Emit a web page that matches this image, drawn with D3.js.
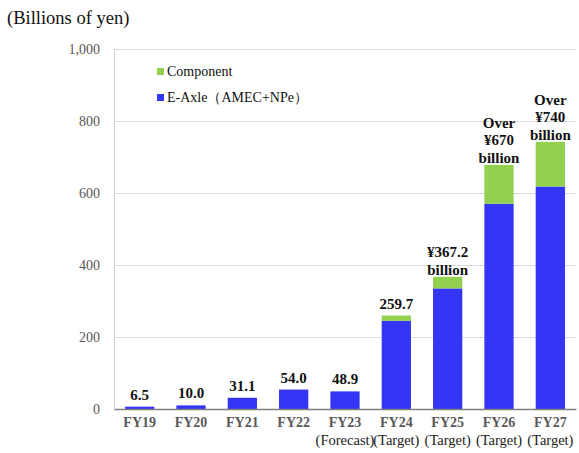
<!DOCTYPE html>
<html>
<head>
<meta charset="utf-8">
<script src="https://cdn.jsdelivr.net/npm/d3@7"></script>
<style>
  html, body { margin: 0; padding: 0; background: #fff; }
  svg { display: block; }
</style>
</head>
<body>
<svg id="chart" width="579" height="453"></svg>
<script>
// Sales by fiscal year, billions of yen
const categories = ["FY19", "FY20", "FY21", "FY22", "FY23", "FY24", "FY25", "FY26", "FY27"];
const subLabels  = ["", "", "", "", "(Forecast)", "(Target)", "(Target)", "(Target)", "(Target)"];
const eAxle      = [6.5, 10.0, 31.1, 54.0, 48.9, 245, 335, 570, 618];
const component  = [0, 0, 0, 0, 0, 14.7, 32.2, 108, 124];
const totalLabels = [
  ["6.5"], ["10.0"], ["31.1"], ["54.0"], ["48.9"], ["259.7"],
  ["¥367.2", "billion"], ["Over", "¥670", "billion"], ["Over", "¥740", "billion"]
];
const yTicks = [0, 200, 400, 600, 800, 1000];
const seriesNames = ["Component", "E-Axle\uFF08AMEC+NPe\uFF09"];

const colors = { eAxle: "#3535F5", component: "#92D050" };
const SERIF = '"Liberation Serif", "Times New Roman", serif';

const svg = d3.select("#chart");
const margin = { left: 114, right: 3, top: 49, bottom: 44 };
const W = 579, H = 453;

const x = d3.scaleBand().domain(categories)
  .range([margin.left, W - margin.right]).paddingInner(0.43).paddingOuter(0.215);
const y = d3.scaleLinear().domain([0, 1000]).range([H - margin.bottom, margin.top]);

// unit caption
svg.append("text").attr("x", 7).attr("y", 24)
  .style("font-family", SERIF).attr("font-size", 18.5).attr("fill", "#111").text("(Billions of yen)");

// gridlines
svg.append("g").selectAll("line").data(yTicks.filter(d => d > 0)).join("line")
  .attr("x1", margin.left).attr("x2", W - margin.right)
  .attr("y1", d => y(d)).attr("y2", d => y(d))
  .attr("stroke", "#d9d9d9").attr("stroke-width", 1).attr("shape-rendering", "crispEdges");

// left frame line
svg.append("line").attr("x1", margin.left).attr("x2", margin.left)
  .attr("y1", y(1000)).attr("y2", y(0))
  .attr("stroke", "#d0d0d0").attr("shape-rendering", "crispEdges");

// y axis labels
const yAxis = d3.axisLeft(y).tickValues(yTicks).tickSize(0).tickPadding(14)
  .tickFormat(d3.format(","));
const gy = svg.append("g").attr("transform", `translate(${margin.left},0)`).call(yAxis);
gy.select(".domain").remove();
gy.selectAll("text").style("font-family", SERIF)
  .attr("font-size", 14).attr("fill", "#595959");

// stacked bars
const rows = categories.map((c, i) => ({ cat: c, eAxle: eAxle[i], component: component[i] }));
const stack = d3.stack().keys(["eAxle", "component"])(rows);
svg.append("g").selectAll("g").data(stack).join("g")
  .attr("fill", d => colors[d.key])
  .selectAll("rect").data(d => d).join("rect")
  .attr("x", d => x(d.data.cat))
  .attr("width", x.bandwidth())
  .attr("y", d => y(d[1]))
  .attr("height", d => y(d[0]) - y(d[1]));

// x axis baseline
const xAxis = d3.axisBottom(x).tickSize(0).tickPadding(8);
const gx = svg.append("g").attr("transform", `translate(0,${y(0)})`).call(xAxis);
gx.select(".domain").attr("stroke", "#7f7f7f").attr("stroke-width", 1.3);
gx.selectAll("text").style("font-family", SERIF)
  .attr("font-size", 14).attr("font-weight", "bold").attr("fill", "#595959");

// second line of category labels
svg.append("g").selectAll("text").data(categories).join("text")
  .attr("x", d => x(d) + x.bandwidth() / 2)
  .attr("y", y(0) + 36)
  .attr("text-anchor", "middle").style("font-family", SERIF)
  .attr("font-size", 14.5).attr("fill", "#222")
  .text((d, i) => subLabels[i]);

// total labels above bars
const lineH = 17.5;
categories.forEach((c, i) => {
  const total = eAxle[i] + component[i];
  const lines = totalLabels[i];
  const gap = lines.length > 1 ? 2 : 7;
  const baseY = y(total) - gap;
  const t = svg.append("text")
    .attr("x", x(c) + x.bandwidth() / 2)
    .attr("text-anchor", "middle").style("font-family", SERIF)
    .attr("font-size", 15).attr("font-weight", "bold").attr("fill", "#111");
  lines.forEach((s, k) => {
    t.append("tspan").attr("x", x(c) + x.bandwidth() / 2)
      .attr("y", baseY - (lines.length - 1 - k) * lineH).text(s);
  });
});

// legend
const legend = svg.append("g").attr("transform", "translate(157,72)");
[["component", seriesNames[0]], ["eAxle", seriesNames[1]]].forEach(([key, name], k) => {
  const g = legend.append("g").attr("transform", `translate(0,${k * 26})`);
  g.append("rect").attr("x", 0).attr("y", -4).attr("width", 7).attr("height", 7).attr("fill", colors[key]);
  g.append("text").attr("x", 10).attr("y", 4).style("font-family", SERIF)
    .attr("font-size", 14).attr("fill", "#111").text(name);
});
</script>
</body>
</html>
